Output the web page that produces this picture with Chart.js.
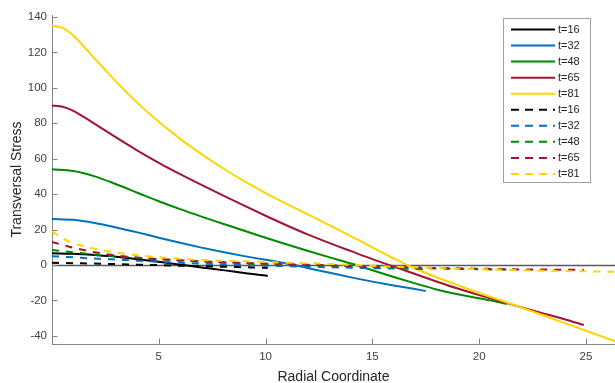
<!DOCTYPE html>
<html>
<head>
<meta charset="utf-8">
<script src="https://cdn.jsdelivr.net/npm/chart.js@4"></script>
<style>
html,body{margin:0;padding:0;background:#fff;}
#wrap{width:615px;height:383px;}
</style>
</head>
<body>
<div id="wrap"><canvas id="c" width="615" height="383"></canvas></div>
<script>
// ---- data ----
const labels = ['t=16','t=32','t=48','t=65','t=81'];
const colors = ['#000000','#0072BD','#008A00','#A2142F','#FFD500'];

const x16 = [0,1,2,3,4,5,6,7,8,9,10,10.1];
const solid16 = [6.6,6.3,5.6,4.7,3.3,1.8,0.2,-1.4,-2.9,-4.5,-6,-6.2];
const dash16  = [1.2,1,0.8,0.5,0.2,-0.1,-0.4,-0.7,-1,-1.3,-1.6,-1.7];

const x32 = [0,1,2,3,4,5,6,7,8,9,10,11,12,13,14,15,16,17,17.5];
const solid32 = [26,25.5,23.7,21.2,18.4,15.4,12.5,9.8,7.3,5,2.9,0.8,-1.8,-4.4,-7,-9.4,-11.6,-13.6,-14.7];
const dash32  = [5,4.3,3.6,3,2.4,1.8,1.3,0.8,0.4,0,-0.4,-0.7,-1,-1.3,-1.5,-1.8,-2,-2.2,-2.3];

const x48 = [0,1,2,3,4,5,6,7,8,9,10,11,12,13,14,15,16,17,18,19,20,21,21.3];
const solid48 = [54,53,50,45.6,40.8,36,31.5,27.3,23.3,19.3,15.4,11.6,7.9,4.3,0.8,-3,-6.8,-10.4,-13.8,-16.5,-18.8,-21.2,-22];
const dash48  = [8.5,7.2,5.9,4.9,4,3.3,2.6,2,1.5,1,0.6,0.2,-0.1,-0.4,-0.8,-1.1,-1.4,-1.7,-2,-2.2,-2.4,-2.5,-2.5];

const x65 = [0,0.5,1,1.5,2,3,4,5,6,7,8,9,10,11,12,13,14,15,16,17,18,19,20,21,22,23,24,24.9];
const solid65 = [90,89.3,87,83.4,79.6,72,64.6,57.7,51.3,45.2,39.3,33.5,27.8,22.3,17.1,12.3,7.8,3.3,-0.9,-5.1,-9.3,-13.3,-17,-20.5,-24,-27.3,-30.6,-33.9];
const dash65  = [13,11.3,9.7,8.4,7.2,5.4,4.2,3.3,2.6,2,1.6,1.2,0.8,0.4,0.1,-0.2,-0.5,-0.8,-1.1,-1.4,-1.7,-1.9,-2.1,-2.3,-2.5,-2.6,-2.7,-2.8];

const x81 = [0,0.5,1,1.5,2,3,4,5,6,7,8,9,10,11,12,13,14,15,16,17,18,19,20,21,22,23,24,25,26,26.4];
const solid81 = [135,133.8,129.5,123.2,116.5,103.5,91.5,80.8,71.2,62.6,54.6,47.3,40.6,34.4,28.4,22.4,16.2,10,3.7,-2,-6.9,-11.4,-15.8,-19.9,-24.1,-28.4,-32.8,-37.1,-41.5,-43.2];
const dash81  = [19,15,12.3,10.6,9.2,7,5.5,4.4,3.5,2.8,2.4,2.1,1.7,1.3,1,0.6,0.1,-0.5,-1,-1.3,-1.7,-2.1,-2.4,-2.7,-3,-3.2,-3.4,-3.6,-3.8,-3.9];

const xTicks = [5,10,15,20,25];
const yTicks = [-40,-20,0,20,40,60,80,100,120,140];

const xs = [x16,x32,x48,x65,x81];
const solids = [solid16,solid32,solid48,solid65,solid81];
const dashes = [dash16,dash32,dash48,dash65,dash81];

// ---- build datasets ----
const datasets = [];
function pts(xa, ya){ return xa.map((v,i)=>({x:v,y:ya[i]})); }
for (let i=0;i<5;i++){
  datasets.push({label:labels[i], data:pts(xs[i],solids[i]), borderColor:colors[i], borderWidth:2,
    pointRadius:0, tension:0.4, cubicInterpolationMode:'monotone', fill:false, order:20-i, _dash:false});
}
for (let i=0;i<5;i++){
  datasets.push({label:labels[i], data:pts(xs[i],dashes[i]), borderColor:colors[i], borderWidth:2,
    borderDash:[7,7], pointRadius:0, tension:0.4, cubicInterpolationMode:'monotone', fill:false, order:10-i, _dash:true});
}

const AXIS = '#858585';
const FONT = '"Liberation Sans", Arial, Helvetica, sans-serif';

const decor = {
  id:'decor',
  beforeDatasetsDraw(chart){
    const {ctx, chartArea:a, scales:{x,y}} = chart;
    ctx.save();
    const y0 = Math.round(y.getPixelForValue(0)) + 0.5;
    ctx.strokeStyle = '#5a5a5a'; ctx.lineWidth = 1.4;
    ctx.beginPath(); ctx.moveTo(a.left, y0); ctx.lineTo(a.right, y0); ctx.stroke();
    ctx.restore();
  },
  afterDraw(chart){
    const {ctx, chartArea:a, scales:{x,y}} = chart;
    ctx.save();
    ctx.strokeStyle = AXIS; ctx.lineWidth = 1;
    ctx.beginPath();
    y.ticks.forEach(t=>{ const p = Math.round(y.getPixelForValue(t.value))+0.5;
      ctx.moveTo(a.left, p); ctx.lineTo(a.left+5.5, p); });
    x.ticks.forEach(t=>{ const p = Math.round(x.getPixelForValue(t.value))+0.5;
      ctx.moveTo(p, a.bottom); ctx.lineTo(p, a.bottom-5.5); });
    ctx.stroke();
    // legend
    const bx=503.5, by=18.5, bw=87, bh=164;
    ctx.fillStyle='#fff'; ctx.fillRect(bx,by,bw,bh);
    ctx.strokeStyle='#a0a0a0'; ctx.lineWidth=1; ctx.strokeRect(bx,by,bw,bh);
    ctx.font = '11px '+FONT; ctx.textBaseline='middle'; ctx.textAlign='left';
    chart.data.datasets.forEach((d,i)=>{
      const yy = 29.5 + i*16.05;
      ctx.strokeStyle = d.borderColor; ctx.lineWidth = 2;
      ctx.setLineDash(d._dash ? [8,6] : []);
      ctx.beginPath(); ctx.moveTo(511, yy); ctx.lineTo(555, yy); ctx.stroke();
      ctx.setLineDash([]);
      ctx.fillStyle = '#262626';
      ctx.fillText(d.label, 558, yy+0.5);
    });
    ctx.restore();
  }
};

new Chart(document.getElementById('c'), {
  type:'line',
  data:{datasets},
  options:{
    responsive:false, animation:false, devicePixelRatio:1,
    layout:{padding:{top:15,right:0,bottom:0,left:0}},
    plugins:{legend:{display:false}, tooltip:{enabled:false}},
    scales:{
      x:{type:'linear', min:0, max:26.36,
        afterBuildTicks(s){ s.ticks = xTicks.map(v=>({value:v})); },
        afterFit(s){ s.height = 39; },
        grid:{display:false, drawTicks:false},
        border:{display:true, color:AXIS, width:1},
        ticks:{color:'#404040', font:{family:FONT, size:11.5}, padding:6, maxRotation:0, autoSkip:false},
        title:{display:true, text:'Radial Coordinate', color:'#262626', font:{family:FONT, size:14, lineHeight:0.8}, padding:{top:0,bottom:0.4}}
      },
      y:{type:'linear', min:-44.6, max:141.1,
        afterBuildTicks(s){ s.ticks = yTicks.map(v=>({value:v})); },
        afterFit(s){ s.width = 52; },
        grid:{display:false, drawTicks:false},
        border:{display:true, color:AXIS, width:1},
        ticks:{color:'#404040', font:{family:FONT, size:11.5}, padding:5, autoSkip:false},
        title:{display:true, text:'Transversal Stress', color:'#262626', font:{family:FONT, size:14, lineHeight:0.8}, padding:{top:12,bottom:0}}
      }
    }
  },
  plugins:[decor]
});
</script>
</body>
</html>
